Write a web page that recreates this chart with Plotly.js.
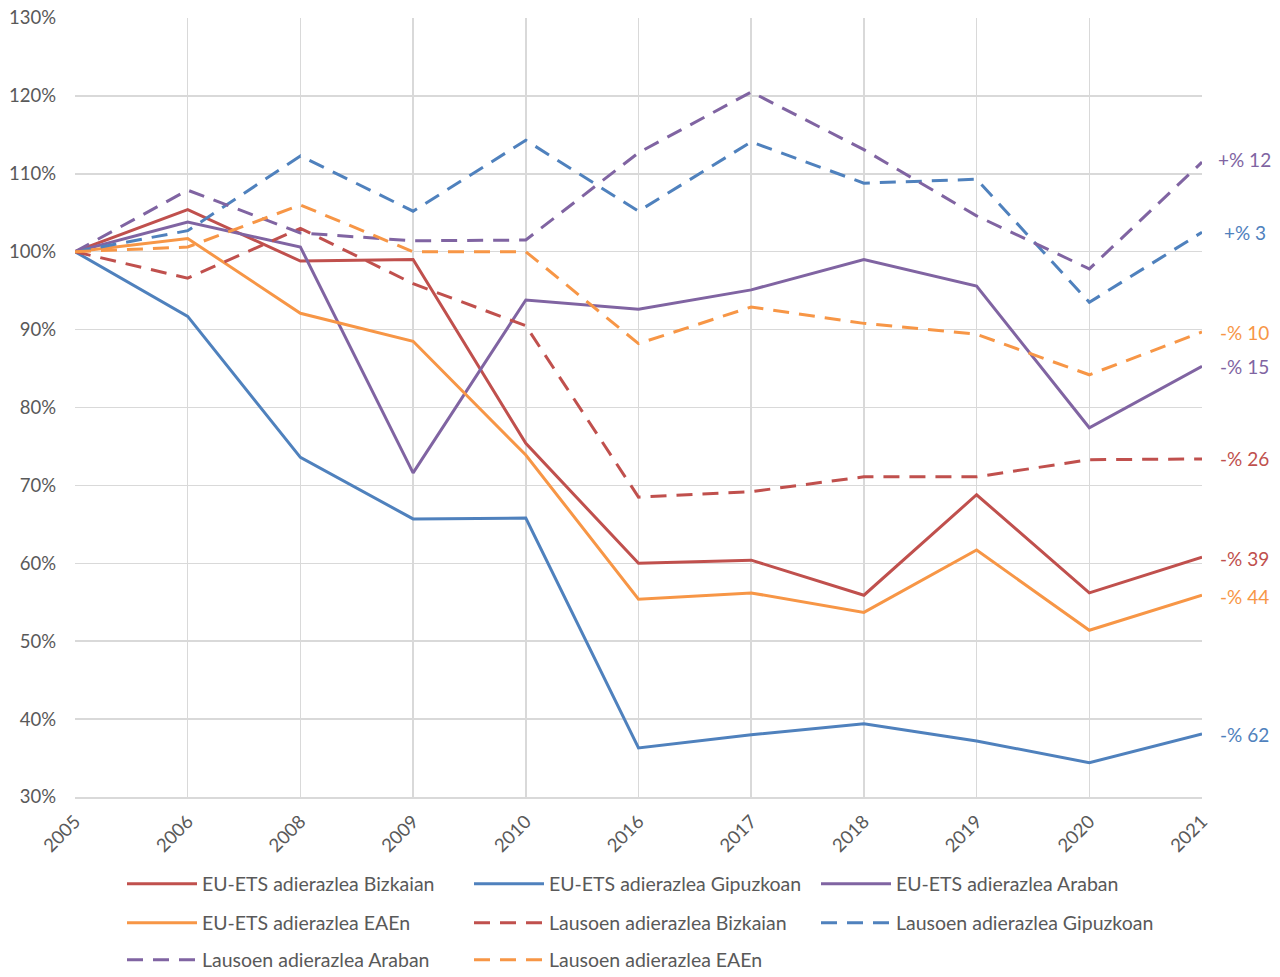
<!DOCTYPE html>
<html>
<head>
<meta charset="utf-8">
<script src="https://cdn.plot.ly/plotly-3.0.1.min.js"></script>
<style>
  html, body { margin: 0; padding: 0; background: #fff; }
  #chart { width: 1280px; height: 977px; }
</style>
</head>
<body>
<div id="chart"></div>
<script>
// years on the x axis (categories, not evenly spaced in time)
var years = ['2005', '2006', '2008', '2009', '2010', '2016', '2017', '2018', '2019', '2020', '2021'];

// EU-ETS indicators (2005 = 100%)
var etsBizkaia   = [100, 105.4, 98.8, 99.0, 75.4, 60.0, 60.4, 55.9, 68.8, 56.2, 60.8];
var etsGipuzkoa  = [100, 91.7, 73.6, 65.7, 65.8, 36.3, 38.0, 39.4, 37.2, 34.4, 38.1];
var etsAraba     = [100, 103.8, 100.6, 71.6, 93.8, 92.6, 95.1, 99.0, 95.6, 77.4, 85.3];
var etsEAE       = [100, 101.7, 92.1, 88.5, 73.9, 55.4, 56.2, 53.7, 61.7, 51.4, 55.9];

// diffuse (Lausoen) indicators
var lauBizkaia   = [100, 96.6, 103.0, 95.9, 90.5, 68.5, 69.2, 71.1, 71.1, 73.3, 73.4];
var lauGipuzkoa  = [100, 102.7, 112.3, 105.2, 114.3, 105.2, 114.1, 108.8, 109.3, 93.5, 102.5];
var lauAraba     = [100, 107.9, 102.4, 101.4, 101.5, 112.7, 120.5, 113.1, 104.6, 97.8, 111.5];
var lauEAE       = [100, 100.6, 106.0, 100.0, 100.0, 88.2, 92.9, 90.8, 89.4, 84.2, 89.7];

// change labels shown at the right end
var endLabels = ['+% 12', '+% 3', '-% 10', '-% 15', '-% 26', '-% 39', '-% 44', '-% 62'];
var endValues = [111.9, 102.5, 89.6, 85.2, 73.4, 60.6, 55.8, 38.0];
var endColors = ['#8064A2', '#4F81BD', '#F79646', '#8064A2', '#C0504D', '#C0504D', '#F79646', '#4F81BD'];

var RED = '#C0504D', BLUE = '#4F81BD', PURPLE = '#8064A2', ORANGE = '#F79646';
var DASH = '16px,10px';

function line(name, vals, color, dash, leg) {
  return {
    x: years,
    y: vals.map(function (v) { return v / 100; }),
    name: name,
    type: 'scatter',
    mode: 'lines',
    line: { color: color, width: 3, dash: dash || 'solid' },
    legend: leg,
    hoverinfo: 'skip'
  };
}

var data = [
  line('EU-ETS adierazlea Bizkaian', etsBizkaia, RED, null, 'legend'),
  line('EU-ETS adierazlea Gipuzkoan', etsGipuzkoa, BLUE, null, 'legend'),
  line('EU-ETS adierazlea Araban', etsAraba, PURPLE, null, 'legend'),
  line('EU-ETS adierazlea EAEn', etsEAE, ORANGE, null, 'legend2'),
  line('Lausoen adierazlea Bizkaian', lauBizkaia, RED, DASH, 'legend2'),
  line('Lausoen adierazlea Gipuzkoan', lauGipuzkoa, BLUE, DASH, 'legend2'),
  line('Lausoen adierazlea Araban', lauAraba, PURPLE, DASH, 'legend3'),
  line('Lausoen adierazlea EAEn', lauEAE, ORANGE, DASH, 'legend3')
];

var annotations = endLabels.map(function (t, i) {
  return {
    xref: 'paper', yref: 'y',
    x: 1.038, y: endValues[i] / 100,
    xanchor: 'center', yanchor: 'middle',
    text: t, showarrow: false,
    font: { size: 19, color: endColors[i] }
  };
});

// one legend per row so the rows can sit where the reference has them
function legendRow(py) {
  return {
    orientation: 'h',
    xref: 'container', yref: 'container',
    x: 122 / 1280, xanchor: 'left',
    y: 1 - py / 977, yanchor: 'middle',
    entrywidth: 262, entrywidthmode: 'pixels',
    itemwidth: 70,
    bgcolor: 'rgba(0,0,0,0)',
    font: { size: 19.5, color: '#595959' },
    traceorder: 'normal'
  };
}

var layout = {
  width: 1280,
  height: 977,
  margin: { l: 75, r: 78, t: 18, b: 180 },
  paper_bgcolor: '#ffffff',
  plot_bgcolor: '#ffffff',
  font: { family: 'Lato, "Open Sans", sans-serif', color: '#595959', size: 18 },
  showlegend: true,
  legend: legendRow(884),
  legend2: legendRow(923),
  legend3: legendRow(960),
  xaxis: {
    type: 'category',
    range: [0, 10],
    tickangle: -45,
    showgrid: true,
    gridcolor: '#d9d9d9',
    gridwidth: 1.5,
    showline: true,
    linecolor: '#d9d9d9',
    linewidth: 1.5,
    ticks: '',
    ticklabelstandoff: 5,
    zeroline: false,
    tickfont: { size: 18.5, color: '#595959' },
    fixedrange: true
  },
  yaxis: {
    range: [0.3, 1.3],
    dtick: 0.1,
    tickformat: '.0%',
    showgrid: true,
    gridcolor: '#d9d9d9',
    gridwidth: 1.5,
    zeroline: false,
    ticks: '',
    ticklabelstandoff: 18,
    tickfont: { size: 18.5, color: '#595959' },
    fixedrange: true
  },
  annotations: annotations
};

Plotly.newPlot('chart', data, layout, { displayModeBar: false, staticPlot: true });
</script>
</body>
</html>
